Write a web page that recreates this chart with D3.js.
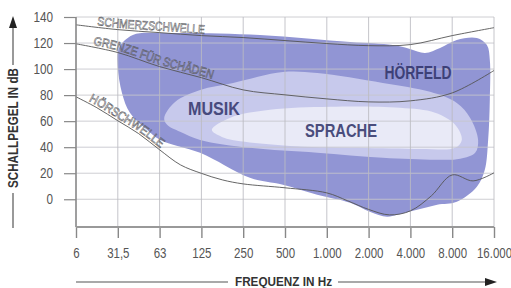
<!DOCTYPE html>
<html><head><meta charset="utf-8">
<script src="https://cdn.jsdelivr.net/npm/d3@7"></script>
<style>
html,body{margin:0;padding:0;background:#fff;}
svg{display:block;}
text{font-family:"Liberation Sans",Arial,sans-serif;}
</style></head>
<body>
<svg id="chart" width="511" height="288"></svg>
<script>
// ---- data (x in octave steps from first tick, y in dB) ----
const xTickLabels = ["6","31,5","63","125","250","500","1.000","2.000","4.000","8.000","16.000"];
const yTickValues = [0,20,40,60,80,100,120,140];

const hoerfeldX = [1.36,2.18,4.40,6.56,7.58,7.99,8.35,8.71,9.11,9.59,9.83,9.90,9.90,9.86,9.78,9.59,9.11,8.64,8.16,7.68,7.44,7.03,6.56,5.77,4.95,4.16,2.97,2.01,1.70,1.29,1.10,1.00,1.03];
const hoerfeldY = [126.2,127.7,126.2,120.8,118.5,115.5,112.4,116.2,122.4,123.9,118.5,107,76.3,45.6,22.6,9.6,-1.9,-4.2,-8.1,-11.9,-13.4,-9.6,-2.7,3.5,11.1,16.5,35.7,45.6,53.3,66.4,81.7,101.7,116.2];

const musikX = [2.11,2.37,2.97,3.76,4.95,5.77,7.34,8.47,9.11,9.43,9.62,9.55,9.19,8.64,7.34,5.77,4.16,2.97,2.49,2.18];
const musikY = [62.5,74.8,84,89.4,97.8,97,89.4,82.5,74,62.5,45.6,35.7,31.1,30.3,31.8,35.7,39.5,45.6,51.8,57.2];

const spracheX = [3.25,3.68,4.64,6.08,7.75,8.59,9.07,9.23,9.07,8.23,6.56,5.12,4.04,3.49];
const spracheY = [53.3,62.5,68.7,71,70.2,66.4,57.2,45.6,39.5,38.7,39.5,41,44.1,47.9];

const schmerzX = [0,1,2,3,4,5,6,7,8,9,10];
const schmerzY = [134,130.3,128,125.7,124.2,121.9,119.6,118,118.8,125.7,131.8];

const grenzeX = [0,1,2,3,4,5,6,7,8,9,10];
const grenzeY = [119.4,112.7,101.9,93.4,84,80.2,77.1,74.8,75.6,81.7,98.9];

const hoerschwelleX = [0,0.5,1,1.5,2,2.5,3,3.5,4,5,6,6.5,7,7.5,8,8.5,9,9.5,10];
const hoerschwelleY = [78.7,70.3,60.3,50.4,38,26.4,19.9,14.9,11.8,8.8,4.9,-1.2,-7.8,-12,-8.9,2.6,18.7,14.1,20.3];

const axisFloor = -21.3;

// ---- layout ----
const svg = d3.select("#chart");
const x = d3.scaleLinear().domain([0,10]).range([76,494]);
const y = d3.scaleLinear().domain([-20,140]).range([225.3,17]);

const colHoer = "#9195d4", colMusik = "#c7c9ec", colSprache = "#e9eaf7";

function pts(xs, ys){ return xs.map((v,i)=>[x(v), y(ys[i])]); }
const closed = d3.line().curve(d3.curveCatmullRomClosed.alpha(0.5));
const open = d3.line().curve(d3.curveCatmullRom.alpha(0.5));

function condense(sel, f){
  sel.each(function(){
    const w = this.getComputedTextLength();
    d3.select(this).attr("textLength", (w*f).toFixed(1)).attr("lengthAdjust","spacingAndGlyphs");
  });
}

// regions
svg.append("path").attr("d", closed(pts(hoerfeldX,hoerfeldY))).attr("fill", colHoer);
svg.append("path").attr("d", closed(pts(musikX,musikY))).attr("fill", colMusik);
svg.append("path").attr("d", closed(pts(spracheX,spracheY))).attr("fill", colSprache);

// grid
const g = svg.append("g");
g.selectAll(".hg").data(yTickValues).join("line")
  .attr("x1", x(0)).attr("x2", x(10))
  .attr("y1", d=>y(d)).attr("y2", d=>y(d))
  .attr("stroke", "#c6c6cc").attr("stroke-width", 1).attr("opacity",0.85);
g.selectAll(".vg").data(d3.range(11)).join("line")
  .attr("x1", d=>x(d)).attr("x2", d=>x(d))
  .attr("y1", y(140)).attr("y2", y(axisFloor))
  .attr("stroke", "#bcbcc2").attr("stroke-width", 1).attr("opacity",0.85);

// curves
const curveDefs = [["schmerz",schmerzX,schmerzY],["grenze",grenzeX,grenzeY],["hoersch",hoerschwelleX,hoerschwelleY]];
curveDefs.forEach(([id,xs,ys])=>{
  svg.append("path").attr("id",id).attr("d", open(pts(xs,ys)))
    .attr("fill","none").attr("stroke","#555").attr("stroke-width",0.9);
});

// axes
const yAxis = d3.axisLeft(y).tickValues(yTickValues).tickSize(12).tickPadding(11);
const ya = svg.append("g").attr("transform", `translate(${x(0)},0)`).call(yAxis);
ya.select(".domain").remove();
ya.selectAll(".tick line").attr("stroke","#888").attr("stroke-width",1.2);
ya.selectAll(".tick text").attr("fill","#555").style("font-size","14px").attr("font-family",null);
condense(ya.selectAll(".tick text"), 0.84);

svg.append("line").attr("x1",x(0)).attr("x2",x(0)).attr("y1",y(140)).attr("y2",y(axisFloor)).attr("stroke","#888").attr("stroke-width",1.5);

const xAxis = d3.axisBottom(x).tickValues(d3.range(11)).tickFormat(i=>xTickLabels[i]).tickSize(11).tickPadding(10);
const xa = svg.append("g").attr("transform", `translate(0,${y(axisFloor)})`).call(xAxis);
xa.select(".domain").remove();
xa.selectAll(".tick line").attr("stroke","#888").attr("stroke-width",1.4);
xa.selectAll(".tick text").attr("fill","#555").style("font-size","14px").attr("font-family",null);
condense(xa.selectAll(".tick text"), 0.82);
svg.append("line").attr("x1",x(0)).attr("x2",x(10)).attr("y1",y(axisFloor)).attr("y2",y(axisFloor)).attr("stroke","#999").attr("stroke-width",2);

// region labels
const lab = (t,px,py,fs,len,col)=>svg.append("text").text(t).attr("x",px).attr("y",py)
  .attr("text-anchor","middle").attr("dominant-baseline","central")
  .attr("textLength",len).attr("lengthAdjust","spacingAndGlyphs")
  .style("font-size",fs+"px").style("font-weight","bold").attr("fill",col);
lab("HÖRFELD", 418, 73, 18, 67, "#3d4078");
lab("MUSIK", 214, 109, 18, 52, "#474a7e");
lab("SPRACHE", 341, 131, 18, 72, "#4a4d7c");

// curve labels (hollow letters following the curves)
const clab = (t,id,off,len)=>{
  const tx = svg.append("text").style("font-size","12.5px")
    .attr("fill","none").attr("stroke","#5f5f66").attr("stroke-width",0.6).attr("dy",-2);
  tx.append("textPath").attr("href","#"+id).attr("startOffset",off)
    .attr("textLength",len).attr("lengthAdjust","spacingAndGlyphs").text(t);
};
clab("SCHMERZSCHWELLE","schmerz",21,108);
clab("GRENZE FÜR SCHÄDEN","grenze",17,124);
clab("HÖRSCHWELLE","hoersch",13,86);

// axis titles
const yt = svg.append("text").text("SCHALLPEGEL IN dB")
  .attr("transform","translate(18,128) rotate(-90)")
  .attr("text-anchor","middle").style("font-size","14px").style("font-weight","bold").attr("fill","#333");
condense(yt, 0.83);
svg.append("line").attr("x1",13).attr("x2",13).attr("y1",193).attr("y2",228).attr("stroke","#555").attr("stroke-width",1.2);
svg.append("line").attr("x1",13).attr("x2",13).attr("y1",26).attr("y2",65).attr("stroke","#555").attr("stroke-width",1.2);
svg.append("path").attr("d","M13,16 L9,28 L17,28 Z").attr("fill","#222");

svg.append("text").text("FREQUENZ IN Hz").attr("x",283.5).attr("y",282)
  .attr("dominant-baseline","central")
  .attr("textLength",97).attr("lengthAdjust","spacingAndGlyphs")
  .attr("text-anchor","middle").style("font-size","12.5px").style("font-weight","bold").attr("fill","#333");
svg.append("line").attr("x1",76).attr("x2",228).attr("y1",282).attr("y2",282).attr("stroke","#555").attr("stroke-width",1.2);
svg.append("line").attr("x1",338).attr("x2",486).attr("y1",282).attr("y2",282).attr("stroke","#555").attr("stroke-width",1.2);
svg.append("path").attr("d","M497,282 L485,278 L485,286 Z").attr("fill","#222");
</script>
</body></html>
